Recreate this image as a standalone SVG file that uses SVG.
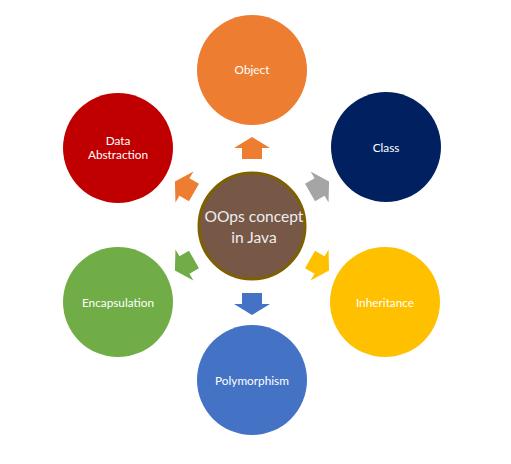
<svg xmlns="http://www.w3.org/2000/svg" width="511" height="464" viewBox="0 0 511 464">
<style>
.lbl{font-family:Lato,"Noto Sans","Liberation Sans",sans-serif;font-size:11.8px;fill:#ffffff;text-anchor:middle}
.ctr{font-family:Lato,"Noto Sans","Liberation Sans",sans-serif;font-size:15.6px;fill:#eeeeee;text-anchor:middle}
</style>
<defs>
<polygon id="arr" points="0,-10 11,-10 11,-18 22,0 11,18 11,10 0,10"/>
</defs>
<rect width="511" height="464" fill="#ffffff"/>
<g id="connectors">
<use href="#arr" fill="#ED7D31" transform="translate(252,226) rotate(-90) translate(67,0)"/>
<use href="#arr" fill="#A5A5A5" transform="translate(252,226) rotate(-30) translate(67,0)"/>
<use href="#arr" fill="#FFC000" transform="translate(252,226) rotate(30) translate(67,0)"/>
<use href="#arr" fill="#4472C4" transform="translate(252,226) rotate(90) translate(67,0)"/>
<use href="#arr" fill="#70AD47" transform="translate(252,226) rotate(150) translate(67,0)"/>
<use href="#arr" fill="#ED7D31" transform="translate(252,226) rotate(210) translate(67,0)"/>
</g>
<g id="center">
<circle cx="252" cy="226" r="53" fill="#775746" stroke="#7F6000" stroke-width="3"/>
<text class="ctr" x="254" y="222">OOps concept</text>
<text class="ctr" x="254" y="243">in Java</text>
</g>
<g id="object">
<circle cx="252" cy="70" r="55" fill="#ED7D31"/>
<text class="lbl" x="252" y="74">Object</text>
</g>
<g id="class">
<circle cx="386" cy="147" r="55" fill="#002060"/>
<text class="lbl" x="386" y="152">Class</text>
</g>
<g id="inheritance">
<circle cx="385" cy="302" r="55" fill="#FFC000"/>
<text class="lbl" x="385" y="307">Inheritance</text>
</g>
<g id="polymorphism">
<circle cx="252" cy="380" r="55" fill="#4472C4"/>
<text class="lbl" x="252" y="385">Polymorphism</text>
</g>
<g id="encapsulation">
<circle cx="118" cy="302" r="55" fill="#70AD47"/>
<text class="lbl" x="118" y="307">Encapsulation</text>
</g>
<g id="data-abstraction">
<circle cx="118" cy="148" r="55" fill="#C00000"/>
<text class="lbl" x="118" y="145">Data</text>
<text class="lbl" x="118" y="159">Abstraction</text>
</g>
</svg>
